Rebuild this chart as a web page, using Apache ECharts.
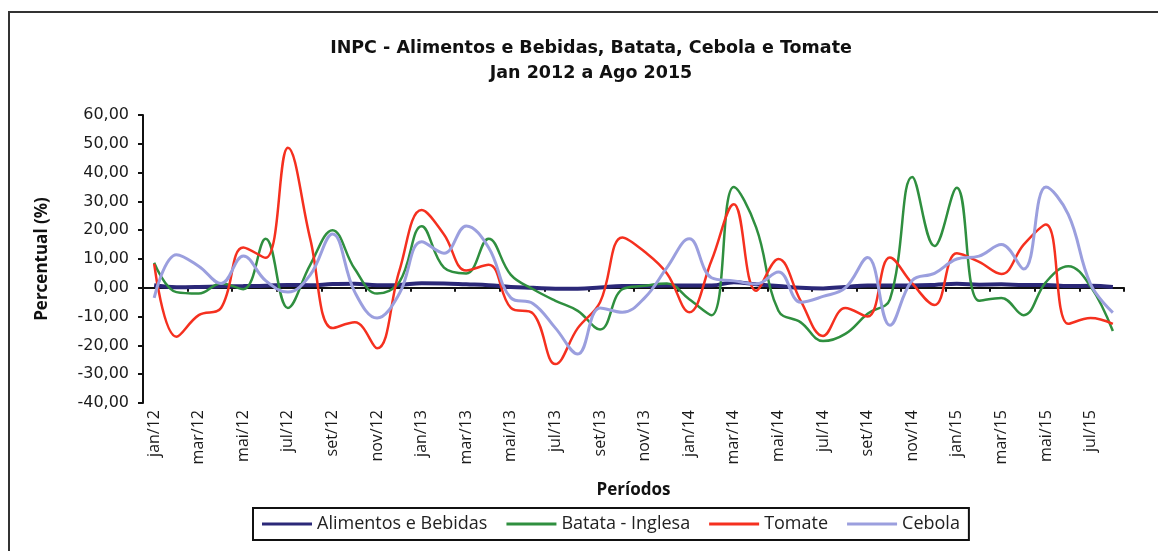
<!DOCTYPE html>
<html>
<head>
<meta charset="utf-8">
<script src="https://cdn.jsdelivr.net/npm/echarts@6/dist/echarts.min.js"></script>
<style>
html,body{margin:0;padding:0;background:#fff;}
#chart{width:1158px;height:551px;}
</style>
</head>
<body>
<div id="chart"></div>
<script>
var categories = [
  'jan/12','fev/12','mar/12','abr/12','mai/12','jun/12','jul/12','ago/12','set/12','out/12','nov/12','dez/12',
  'jan/13','fev/13','mar/13','abr/13','mai/13','jun/13','jul/13','ago/13','set/13','out/13','nov/13','dez/13',
  'jan/14','fev/14','mar/14','abr/14','mai/14','jun/14','jul/14','ago/14','set/14','out/14','nov/14','dez/14',
  'jan/15','fev/15','mar/15','abr/15','mai/15','jun/15','jul/15','ago/15'
];
var alimentosBebidas = [
  0.9, 0.2, 0.3, 0.5, 0.6, 0.7, 1.0, 0.9, 1.3, 1.4, 0.9, 1.0,
  1.6, 1.5, 1.2, 0.9, 0.3, 0.0, -0.3, -0.3, 0.1, 0.6, 0.6, 0.8,
  0.8, 0.8, 1.9, 1.2, 0.6, 0.0, -0.2, 0.3, 0.8, 0.8, 0.8, 1.0,
  1.4, 1.1, 1.2, 1.0, 1.0, 0.6, 0.7, 0.3
];
var batataInglesa = [
  8.7, -1.5, -2.0, 1.5, -0.5, 17.0, -7.0, 8.0, 20.0, 6.5, -2.0, 2.0,
  21.4, 7.0, 5.0, 17.0, 4.5, -0.5, -4.5, -8.0, -14.5, -0.5, 0.7, 1.5,
  -4.0, -9.5, 35.0, 21.0, -8.0, -12.0, -18.5, -16.0, -9.0, -4.0, 38.5, 14.5,
  34.7, -4.5, -3.5, -9.5, 2.0, 7.5, 0.5, -15.0
];
var tomate = [
  8.3, -17.0, -9.5, -7.0, 14.0, 10.4, 48.6, 17.0, -14.0, -12.0, -21.0, 6.0,
  27.0, 18.5, 6.0, 8.0, -7.0, -9.0, -26.5, -14.0, -5.0, 17.5, 12.5, 5.0,
  -8.5, 9.5, 29.0, -1.0, 10.0, -4.5, -16.7, -7.0, -10.0, 10.5, 1.5, -6.0,
  12.0, 9.0, 4.8, 15.0, 22.0, -12.5, -10.5, -12.5
];
var cebola = [
  -3.5, 11.5, 7.5, 1.5, 11.0, 2.5, -1.5, 4.5, 18.7, -1.5, -10.5, -2.0,
  16.0, 12.0, 21.5, 14.0, -3.5, -5.5, -14.0, -23.0, -7.0, -8.5, -3.5, 7.0,
  17.0, 3.5, 2.4, 1.3, 5.5, -5.0, -3.0, 0.0, 10.5, -13.0, 2.5, 5.0,
  10.0, 11.0, 15.0, 6.5, 35.0, 25.5, 1.3, -8.6
];
var seriesNames = ['Alimentos e Bebidas', 'Batata - Inglesa', 'Tomate', 'Cebola'];
var seriesColors = ['#2b2878', '#2f8f3f', '#f5301f', '#9b9fde'];
var seriesWidths = [4, 2.5, 2.5, 3];
var seriesData = [alimentosBebidas, batataInglesa, tomate, cebola];

var chart = echarts.init(document.getElementById('chart'), null, {renderer: 'canvas'});
var option = {
  backgroundColor: '#fff',
  animation: false,
  title: {
    text: 'INPC - Alimentos e Bebidas, Batata, Cebola e Tomate\nJan 2012 a Ago 2015',
    left: 591,
    top: 36,
    textAlign: 'center',
    padding: 0,
    textStyle: {
      fontFamily: 'DejaVu Sans',
      fontWeight: 'bold',
      fontSize: 17.5,
      lineHeight: 25,
      color: '#111'
    }
  },
  graphic: [{
    type: 'rect',
    shape: {x: 9, y: 12, width: 1170, height: 570},
    style: {fill: 'none', stroke: '#333', lineWidth: 2},
    silent: true
  }],
  legend: {
    data: seriesNames,
    left: 253,
    top: 508,
    orient: 'horizontal',
    icon: 'rect',
    itemWidth: 50,
    itemHeight: 3,
    itemGap: 19,
    padding: [7, 9],
    borderColor: '#111',
    borderWidth: 2,
    textStyle: {fontFamily: 'Open Sans', fontSize: 18, color: '#222'}
  },
  grid: {left: 143, top: 115, width: 981, height: 288, containLabel: false},
  xAxis: [{
    type: 'category',
    data: categories,
    boundaryGap: true,
    position: 'bottom',
    axisLine: {show: false, onZero: false},
    axisTick: {show: false},
    axisLabel: {
      interval: 1,
      rotate: 90,
      margin: 7,
      fontFamily: 'Open Sans',
      fontSize: 16,
      color: '#1a1a1a'
    },
    name: 'Períodos',
    nameLocation: 'middle',
    nameGap: 79,
    nameTextStyle: {fontFamily: 'Open Sans', fontWeight: 'bold', fontSize: 17, color: '#111'}
  }, {
    type: 'category',
    data: categories,
    boundaryGap: true,
    position: 'top',
    axisLine: {show: true, onZero: true, lineStyle: {color: '#111', width: 2}},
    axisTick: {show: true, interval: 1, inside: true, length: 4, lineStyle: {color: '#111', width: 2}},
    axisLabel: {show: false},
    splitLine: {show: false}
  }],
  yAxis: {
    type: 'value',
    min: -40,
    max: 60,
    interval: 10,
    axisLine: {show: true, onZero: false, lineStyle: {color: '#111', width: 2}},
    axisTick: {show: true, length: 5, lineStyle: {color: '#111', width: 2}},
    splitLine: {show: false},
    axisLabel: {
      margin: 14,
      fontFamily: 'DejaVu Sans',
      fontSize: 16,
      color: '#1a1a1a',
      formatter: function (v) { return v.toFixed(2).replace('.', ','); }
    },
    name: 'Percentual (%)',
    nameLocation: 'middle',
    nameGap: 92,
    nameRotate: 90,
    nameTextStyle: {fontFamily: 'Open Sans', fontWeight: 'bold', fontSize: 17, color: '#111'}
  },
  series: seriesNames.map(function (name, k) {
    return {
      name: name,
      type: 'line',
      xAxisIndex: 0,
      data: seriesData[k],
      smooth: 0.4,
      symbol: 'none',
      showSymbol: false,
      lineStyle: {color: seriesColors[k], width: seriesWidths[k]},
      itemStyle: {color: seriesColors[k]}
    };
  })
};
chart.setOption(option);
</script>
</body>
</html>
